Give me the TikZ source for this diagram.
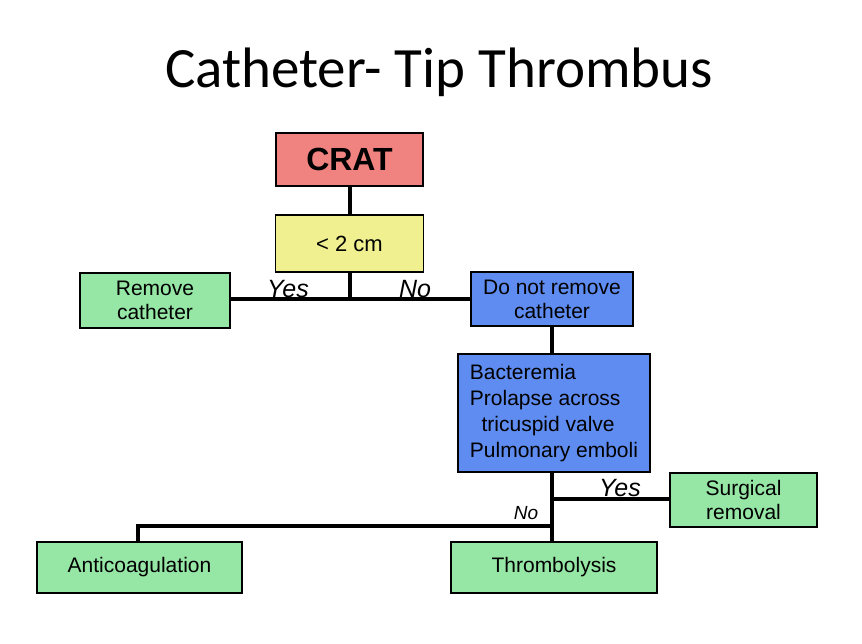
\documentclass[tikz,border=0pt]{standalone}
\usepackage{fontspec}
\setmainfont{Liberation Sans}
\newfontfamily\titlefont{Carlito}
\definecolor{salmon}{RGB}{240,130,128}
\definecolor{yel}{RGB}{240,240,145}
\definecolor{grn}{RGB}{150,230,165}
\definecolor{blu}{RGB}{95,140,240}
\begin{document}
\begin{tikzpicture}[x=1pt,y=-1pt,
  box/.style={draw=black,line width=1.6pt,align=center,font=\fontsize{21}{24}\selectfont,inner sep=0pt},
  conn/.style={line width=4pt},
  lab/.style={font=\fontsize{25}{26}\selectfont\itshape}]
\useasboundingbox[fill=white] (0,0) rectangle (862,643);
\node[font=\titlefont\fontsize{57}{60}\selectfont] (t) at (439,72) {Catheter- Tip Thrombus};
\node[box,fill=salmon,minimum width=147pt,minimum height=53pt,font=\bfseries\fontsize{32}{34}\selectfont] (crat) at (349.5,159.5) {CRAT};
\node[box,fill=yel,minimum width=148pt,minimum height=57pt,font=\fontsize{22}{24}\selectfont] (lt) at (349.5,243.5) {< 2 cm};
\node[box,fill=grn,minimum width=150pt,minimum height=55pt] (rem) at (155,300.5) {Remove\\catheter};
\node[box,fill=blu,minimum width=162pt,minimum height=54pt] (dnr) at (552,299) {Do not remove\\catheter};
\node[box,fill=blu,minimum width=192pt,minimum height=118pt,align=left,font=\fontsize{21}{26}\selectfont] (bac) at (554,413) {Bacteremia\\Prolapse across\\\ \ tricuspid valve\\Pulmonary emboli};
\node[box,fill=grn,minimum width=147pt,minimum height=54pt] (sur) at (743.5,500) {Surgical\\removal};
\node[box,fill=grn,minimum width=205pt,minimum height=51pt] (ant) at (139.5,567.5) {Anticoagulation};
\node[box,fill=grn,minimum width=206pt,minimum height=51pt] (thr) at (554,567.5) {Thrombolysis};
\coordinate (j1) at (349.5,299);
\coordinate (j2) at (552,499);
\coordinate (j3) at (552,526);
\coordinate (j4) at (138,526);
\draw[conn] (crat.south) -- (lt.north);
\draw[conn] (lt.south) -- (j1);
\draw[conn] (rem.east|-j1) -- (dnr.west|-j1);
\draw[conn] (dnr.south-|j2) -- (bac.north-|j2);
\draw[conn] (bac.south-|j2) -- (j2|-thr.north);
\draw[conn] (j2) -- (sur.west|-j2);
\draw[conn] (j3) -- (j4) -- (j4|-ant.north);
\node[lab] (yes1) at (288,289) {Yes};
\node[lab] (no1) at (415,289) {No};
\node[lab] (yes2) at (620,488) {Yes};
\node[font=\fontsize{19}{20}\selectfont\itshape] (no2) at (526,513) {No};
\end{tikzpicture}
\end{document}
